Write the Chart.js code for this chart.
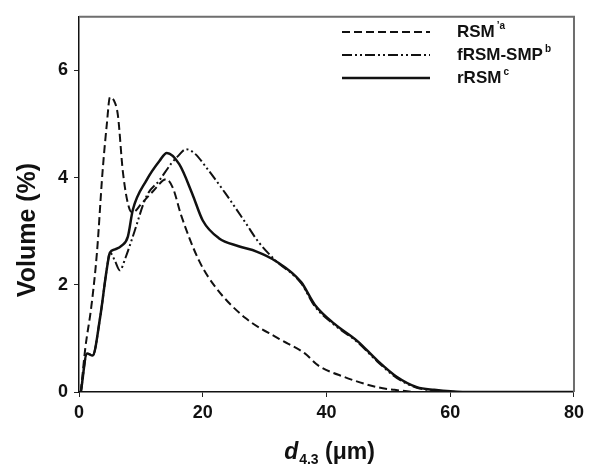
<!DOCTYPE html>
<html>
<head>
<meta charset="utf-8">
<script src="https://cdn.jsdelivr.net/npm/chart.js@4.4.1/dist/chart.umd.min.js"></script>
<style>
  html, body { margin: 0; padding: 0; background: #fff; }
  #wrap { width: 589px; height: 468px; }
</style>
</head>
<body>
<div id="wrap"><canvas id="myChart" width="589" height="468"></canvas></div>
<script>
// particle size distributions
var rsmX = [0.3, 1.0, 2.0, 2.9, 3.8, 4.5, 5.0, 5.8, 6.3, 7.1, 8.2, 8.7, 10, 12, 14.1, 15.2, 16.5, 19.4, 22.1, 26.9, 32.2, 36.5, 38.6, 42.9, 48.2, 51, 55, 80];
var rsmY = [0, 0.8, 1.6, 2.6, 4.1, 5.0, 5.5, 5.4, 5.15, 4.1, 3.4, 3.35, 3.5, 3.75, 3.97, 3.8, 3.3, 2.45, 1.95, 1.38, 1.0, 0.72, 0.5, 0.28, 0.09, 0.04, 0, 0];

var fsmpX = [0.3, 1.3, 2.2, 3.4, 4.5, 5.0, 5.8, 6.6, 7.5, 8.7, 10.9, 13, 14.9, 16, 17.3, 18.7, 20.5, 23.7, 26.9, 29, 31.7, 35.9, 38.1, 41.3, 45, 48.2, 51.4, 54.6, 57.4, 62, 80];
var fsmpY = [0, 0.72, 0.68, 1.38, 2.3, 2.6, 2.45, 2.27, 2.5, 2.9, 3.65, 3.95, 4.26, 4.4, 4.53, 4.45, 4.2, 3.7, 3.16, 2.8, 2.46, 2.03, 1.6, 1.25, 0.93, 0.57, 0.26, 0.08, 0.03, 0, 0];

var rrsmX = [0.3, 1.3, 2.2, 3.4, 4.5, 5.0, 5.8, 6.9, 7.9, 8.7, 10.9, 13, 14.2, 16.2, 18.3, 20, 22.6, 25.8, 28.7, 31.7, 35.9, 38.1, 41.3, 45, 48.2, 51.4, 54.6, 57.4, 62, 80];
var rrsmY = [0, 0.72, 0.68, 1.38, 2.3, 2.6, 2.66, 2.73, 2.9, 3.4, 3.95, 4.31, 4.46, 4.25, 3.7, 3.2, 2.87, 2.72, 2.62, 2.45, 2.05, 1.63, 1.27, 0.95, 0.59, 0.28, 0.09, 0.04, 0, 0];

var xTicks = [0, 20, 40, 60, 80];
var yTicks = [0, 2, 4, 6];

var seriesNames = ["RSM", "fRSM-SMP", "rRSM"];
var seriesSup = ["\u2019a", "b", "c"];

function pts(xs, ys) {
  return xs.map(function (x, i) { return { x: x, y: ys[i] }; });
}

var FONT = "'Liberation Sans', Arial, sans-serif";

var framePlugin = {
  id: "frame",
  afterDraw: function (chart) {
    var ctx = chart.ctx, a = chart.chartArea;
    ctx.save();
    // top and right edge of the box
    ctx.strokeStyle = "#6e6e6e";
    ctx.lineWidth = 2;
    ctx.beginPath();
    ctx.moveTo(a.left, a.top);
    ctx.lineTo(a.right, a.top);
    ctx.lineTo(a.right, a.bottom);
    ctx.stroke();

    // legend
    var lx = 342, lw = 88, tx = 457;
    var rows = [32, 55, 78];
    chart.data.datasets.forEach(function (ds, i) {
      ctx.strokeStyle = "#111";
      ctx.lineWidth = ds.borderWidth;
      ctx.setLineDash(ds.borderDash || []);
      ctx.beginPath();
      ctx.moveTo(lx, rows[i]);
      ctx.lineTo(lx + lw, rows[i]);
      ctx.stroke();
      ctx.setLineDash([]);
      ctx.fillStyle = "#111";
      ctx.textBaseline = "middle";
      ctx.textAlign = "left";
      ctx.font = "bold 17px " + FONT;
      ctx.fillText(seriesNames[i], tx, rows[i]);
      var w = ctx.measureText(seriesNames[i]).width;
      ctx.font = "bold 10px " + FONT;
      ctx.fillText(seriesSup[i], tx + w + 2, rows[i] - 6);
    });

    // x title: d4.3 (um)
    ctx.fillStyle = "#111";
    ctx.textBaseline = "alphabetic";
    ctx.textAlign = "left";
    var big = "bold 23px " + FONT, sub = "bold 14px " + FONT;
    ctx.font = "italic " + big;
    var w1 = ctx.measureText("d").width;
    ctx.font = sub;
    var w2 = ctx.measureText("4.3").width;
    ctx.font = big;
    var w3 = ctx.measureText(" (\u03bcm)").width;
    var x0 = 329 - (w1 + w2 + w3) / 2, base = 459;
    ctx.font = "italic " + big;
    ctx.fillText("d", x0, base);
    ctx.font = sub;
    ctx.fillText("4.3", x0 + w1 + 1, base + 5);
    ctx.font = big;
    ctx.fillText(" (\u03bcm)", x0 + w1 + w2 + 1, base);

    // y title
    ctx.translate(28, 230);
    ctx.rotate(-Math.PI / 2);
    ctx.textAlign = "center";
    ctx.textBaseline = "middle";
    ctx.font = "bold 25px " + FONT;
    ctx.fillText("Volume (%)", 0, 0);
    ctx.restore();
  }
};

new Chart("myChart", {
  type: "line",
  data: {
    datasets: [{
      label: seriesNames[0],
      data: pts(rsmX, rsmY),
      borderColor: "#111",
      borderWidth: 2,
      borderDash: [8, 4],
      pointRadius: 0,
      cubicInterpolationMode: "monotone"
    }, {
      label: seriesNames[1],
      data: pts(fsmpX, fsmpY),
      borderColor: "#111",
      borderWidth: 2,
      borderDash: [10, 3, 2, 3, 2, 3],
      pointRadius: 0,
      cubicInterpolationMode: "monotone"
    }, {
      label: seriesNames[2],
      data: pts(rrsmX, rrsmY),
      borderColor: "#111",
      borderWidth: 2.5,
      pointRadius: 0,
      cubicInterpolationMode: "monotone"
    }]
  },
  options: {
    responsive: false,
    animation: false,
    layout: { padding: { left: 0, right: 11, top: 12, bottom: 0 } },
    plugins: {
      legend: { display: false },
      tooltip: { enabled: false }
    },
    scales: {
      x: {
        type: "linear",
        min: 0,
        max: 80,
        afterFit: function (s) { s.height = 76; },
        afterBuildTicks: function (s) { s.ticks = xTicks.map(function (v) { return { value: v }; }); },
        grid: { drawOnChartArea: false, tickLength: 5, color: "#222" },
        border: { color: "#111", width: 1.5 },
        ticks: { color: "#111", padding: 5, font: { family: FONT, size: 18, weight: "bold" } }
      },
      y: {
        min: 0,
        max: 7,
        afterFit: function (s) { s.width = 79; },
        afterBuildTicks: function (s) { s.ticks = yTicks.map(function (v) { return { value: v }; }); },
        grid: { drawOnChartArea: false, tickLength: 5, color: "#222" },
        border: { color: "#111", width: 1.5 },
        ticks: { color: "#111", padding: 6, font: { family: FONT, size: 18, weight: "bold" } }
      }
    }
  },
  plugins: [framePlugin]
});
</script>
</body>
</html>
